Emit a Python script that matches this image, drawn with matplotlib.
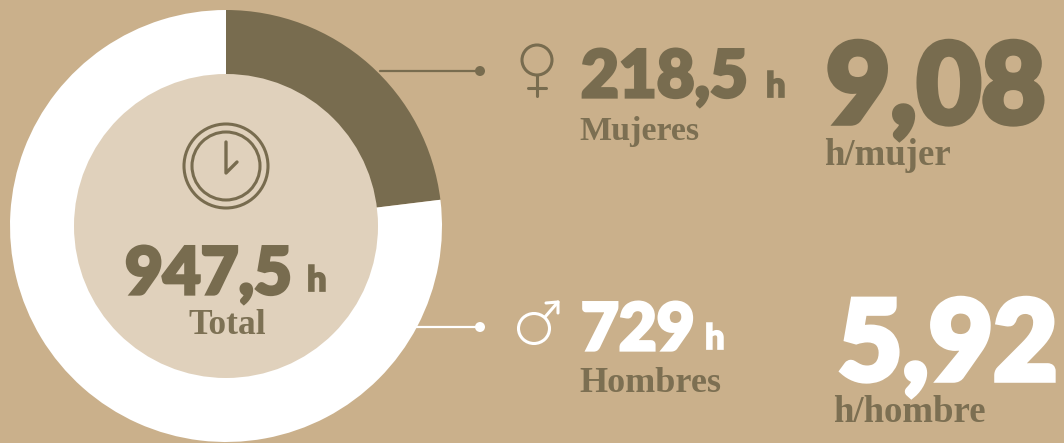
import matplotlib
matplotlib.use("Agg")
from matplotlib import pyplot as plt
from matplotlib import patheffects as pe
from matplotlib.patches import Circle, Ellipse

c_bg = "#cab08b"
c_dark = "#786c4f"
c_light = "#e0d1bc"
c_w = "#ffffff"

labels = ["Mujeres", "Hombres"]
hours = [218.5, 729]
total_label = "Total"
total_text = "947,5"
hours_text = ["218,5", "729"]
ratio_text = ["9,08", "5,92"]
ratio_labels = ["h/mujer", "h/hombre"]

W, H = 1064, 443
fig = plt.figure(figsize=(W / 100, H / 100), dpi=100, facecolor=c_bg)
ax = fig.add_axes([0, 0, 1, 1])


def Y(y):
    # picture rows run downwards
    return H - y


def num(x, y, s, size, color):
    # Lato is not as heavy as the original, so thicken it with a stroke
    t = ax.text(x, Y(y), s, fontsize=size, color=color, family="Lato", weight=900, ha="left", va="baseline", zorder=5)
    t.set_path_effects([pe.withStroke(linewidth=size * .05, foreground=color, joinstyle="miter")])


def serif(x, y, s, size=25):
    ax.text(x, Y(y), s, fontsize=size, color=c_dark, family="Liberation Serif", weight="bold", ha="left", va="baseline", alpha=.95, zorder=5)


def line(xs, ys, color, lw=2.0):
    ax.plot(xs, [Y(v) for v in ys], color=color, lw=lw, solid_capstyle="round", zorder=4)


ax.pie(hours, colors=[c_dark, c_w], startangle=90, counterclock=False, center=(226, Y(226)), radius=216,
       wedgeprops={"linewidth": 0})
ax.add_patch(Circle((226, Y(226)), 152, fc=c_light, ec="none", zorder=3))

# clock
for r in [42, 34]:
    ax.add_patch(Circle((226, Y(166)), r, fc="none", ec=c_dark, lw=2.2, zorder=4))
line([226, 226, 237], [142, 173, 162], c_dark, 2.4)

# leader lines
line([380, 480], [71, 71], c_dark, 1.6)
ax.add_patch(Circle((480, Y(71)), 5, fc=c_dark, ec="none", zorder=4))
line([415, 480], [327, 327], c_w, 1.6)
ax.add_patch(Circle((480, Y(327)), 5, fc=c_w, ec="none", zorder=4))

# female sign
ax.add_patch(Ellipse((537, Y(60)), 30, 30, fc="none", ec=c_dark, lw=2.2, zorder=4))
line([537, 537], [75, 96], c_dark, 2.2)
line([528, 546], [88, 88], c_dark, 2.2)

# male sign
ax.add_patch(Ellipse((534, Y(328.5)), 31, 30, fc="none", ec=c_w, lw=2.2, zorder=4))
line([545, 558], [317, 302], c_w, 2.2)
line([546, 558, 558], [303, 302, 313], c_w, 2.2)

# figures
num(125, 294, total_text, 47, c_dark)
num(307, 291, "h", 25, c_dark)
serif(188, 334, total_label, 25.5)

num(581, 97, hours_text[0], 47, c_dark)
num(766, 97, "h", 25, c_dark)
serif(579, 140, labels[0], 24.5)
num(826, 123, ratio_text[0], 80, c_dark)
serif(824, 165, ratio_labels[0], 26.5)

num(581, 350, hours_text[1], 47, c_w)
num(705, 349, "h", 25, c_w)
serif(579, 392, labels[1], 26)
num(838, 380, ratio_text[1], 80, c_w)
serif(833, 422, ratio_labels[1], 26.5)

ax.set_xlim(0, W)
ax.set_ylim(0, H)
ax.set_aspect("auto")
ax.axis("off")

plt.savefig("out.png", dpi=100, facecolor=c_bg)
print("Done.")
